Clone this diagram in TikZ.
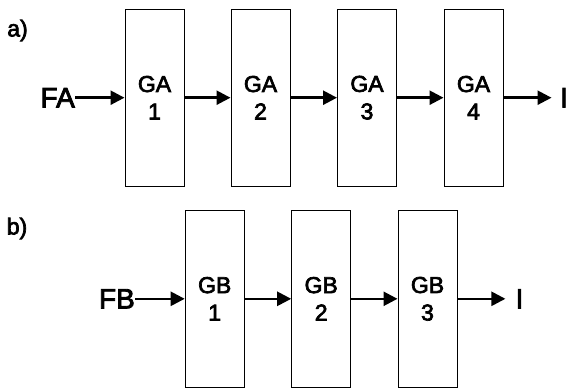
\documentclass[tikz,border=0pt]{standalone}
\usepackage{fontspec}
\setmainfont{Liberation Sans}[FakeBold=3]
\usetikzlibrary{arrows.meta}

\begin{document}
\begin{tikzpicture}[x=1pt,y=-1pt,
  block/.style={draw,line width=1pt,minimum width=59pt,minimum height=177pt,inner sep=0,align=center,font=\fontsize{23}{27.5}\selectfont},
  sig/.style={inner sep=0,font=\fontsize{28}{30}\selectfont},
  tag/.style={inner sep=0,font=\fontsize{23}{24}\selectfont},
  flow/.style={line width=2.5pt,-{Triangle[length=14pt,width=14pt]}}]
  \useasboundingbox (0,0) rectangle (567,389);
  % a)
  \node[tag] (ta) at (17.5,30.5) {a)};
  \node[sig,anchor=east] (fa) at (75,97.7) {FA};
  \node[block] (a1) at (154.5,97.7) {GA\\1};
  \node[block] (a2) at (260.5,97.7) {GA\\2};
  \node[block] (a3) at (367,97.7) {GA\\3};
  \node[block] (a4) at (473.5,97.7) {GA\\4};
  \node[sig] (ia) at (564,97.7) {I};
  \draw[flow] (fa.east) -- (a1.west);
  \draw[flow] (a1) -- (a2);
  \draw[flow] (a2) -- (a3);
  \draw[flow] (a3) -- (a4);
  \draw[flow,shorten >=8.4pt] (a4.east) -- (ia.west);
  % b)
  \node[tag] (tb) at (17,228.5) {b)};
  \node[sig,anchor=east] (fb) at (135,298.8) {FB};
  \node[block] (b1) at (214.7,298.8) {GB\\1};
  \node[block] (b2) at (321.2,298.8) {GB\\2};
  \node[block] (b3) at (427.5,298.8) {GB\\3};
  \node[sig] (ib) at (519.5,298.8) {I};
  \draw[flow] (fb.east) -- (b1.west);
  \draw[flow] (b1) -- (b2);
  \draw[flow] (b2) -- (b3);
  \draw[flow,shorten >=10pt] (b3.east) -- (ib.west);
\end{tikzpicture}
\end{document}
